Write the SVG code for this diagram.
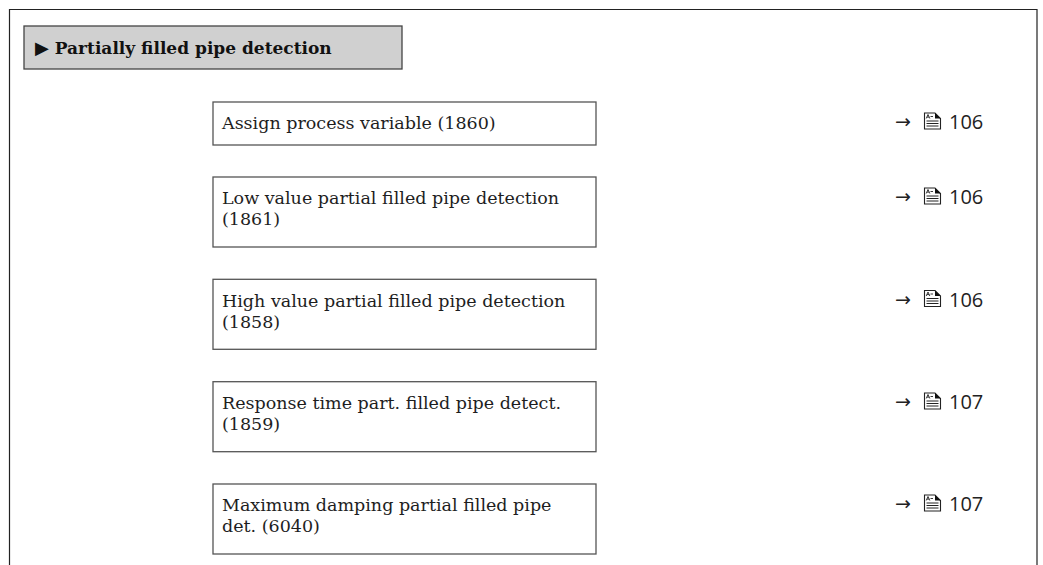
<svg xmlns="http://www.w3.org/2000/svg" width="1043" height="565" viewBox="0 0 1043 565">
<style>
.frame{fill:none;stroke:#222;stroke-width:1.2}
.hdr{fill:#d0d0d0;stroke:#444;stroke-width:1.3}
.box{fill:#fff;stroke:#555;stroke-width:1.3}
.hdrtxt{font-family:"DejaVu Serif","Liberation Serif",serif;font-weight:bold;font-size:17px;fill:#111}
.tri{font-family:"DejaVu Sans",sans-serif;font-weight:normal;font-size:18px}
.lbl{font-family:"DejaVu Serif","Liberation Serif",serif;font-size:17.5px;fill:#1e1e1e}
.arr{font-family:"DejaVu Sans",sans-serif;font-size:19px;fill:#222}
.num{font-family:"Open Sans","DejaVu Sans",sans-serif;font-size:20px;fill:#222}
</style>
<defs>
<g id="doc">
<path d="M0.5,0.5 H11 L16.5,6 V16.5 H0.5 Z" fill="#fff" stroke="#222" stroke-width="1.1"/>
<path d="M11,0.5 L16.5,6 H11 Z" fill="#111"/>
<path d="M2.5,8.5 H14.5 M2.5,11 H14.5 M2.5,13.5 H14.5" stroke="#222" stroke-width="1"/>
<path d="M2.2,6 L4,2 L5.8,6 M3,4.6 H5.2 M6.5,4 H9" fill="none" stroke="#222" stroke-width="0.9"/>
</g>
</defs>
<g id="frame">
<path class="frame" d="M9.5,565 V9.5 H1037 V565"/>
</g>
<g id="header">
<rect class="hdr" x="24" y="26" width="378" height="43"/>
<text class="hdrtxt" x="35" y="54"><tspan class="tri">▶</tspan> Partially filled pipe detection</text>
</g>
<g id="connectors"></g>
<g id="n1860">
<rect class="box" x="213" y="102" width="383" height="43"/>
<text class="lbl" x="222" y="129">Assign process variable (1860)</text>
<text class="arr" x="895" y="128">→</text>
<use href="#doc" x="924" y="112.5"/>
<text class="num" x="949" y="129">106</text>
</g>
<g id="n1861">
<rect class="box" x="213" y="177" width="383" height="70"/>
<text class="lbl" x="222" y="204">Low value partial filled pipe detection</text>
<text class="lbl" x="222" y="225">(1861)</text>
<text class="arr" x="895" y="203">→</text>
<use href="#doc" x="924" y="187.5"/>
<text class="num" x="949" y="204">106</text>
</g>
<g id="n1858">
<rect class="box" x="213" y="279.3" width="383" height="70"/>
<text class="lbl" x="222" y="306.5">High value partial filled pipe detection</text>
<text class="lbl" x="222" y="327.5">(1858)</text>
<text class="arr" x="895" y="305.5">→</text>
<use href="#doc" x="924" y="290"/>
<text class="num" x="949" y="306.5">106</text>
</g>
<g id="n1859">
<rect class="box" x="213" y="381.7" width="383" height="70"/>
<text class="lbl" x="222" y="409">Response time part. filled pipe detect.</text>
<text class="lbl" x="222" y="430">(1859)</text>
<text class="arr" x="895" y="408">→</text>
<use href="#doc" x="924" y="392.5"/>
<text class="num" x="949" y="409">107</text>
</g>
<g id="n6040">
<rect class="box" x="213" y="484" width="383" height="70"/>
<text class="lbl" x="222" y="511">Maximum damping partial filled pipe</text>
<text class="lbl" x="222" y="532">det. (6040)</text>
<text class="arr" x="895" y="510">→</text>
<use href="#doc" x="924" y="494.5"/>
<text class="num" x="949" y="511">107</text>
</g>
</svg>
